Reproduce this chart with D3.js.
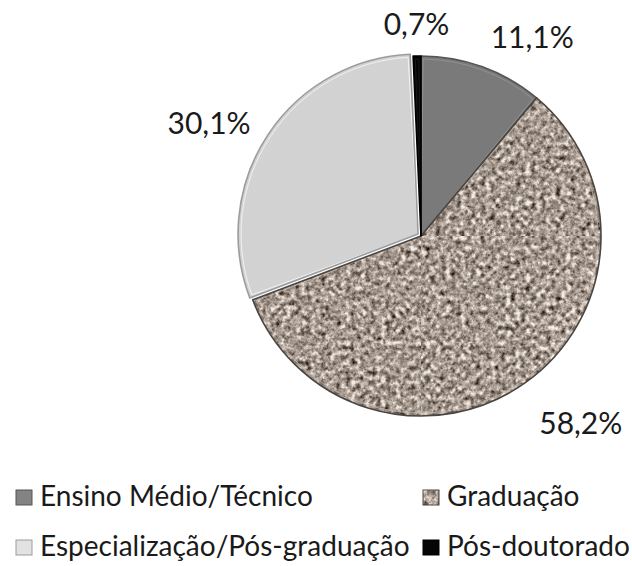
<!DOCTYPE html>
<html>
<head>
<meta charset="utf-8">
<script src="https://cdn.jsdelivr.net/npm/d3@7"></script>
<style>
  html, body { margin: 0; padding: 0; background: #fff; }
  svg { display: block; }
  text { font-family: Lato, "Open Sans", sans-serif; fill: #1a1a1a; }
</style>
</head>
<body>
<svg id="chart" width="632" height="566"></svg>
<script>
// Nível de escolaridade (%)
const categories = ["Ensino Médio/Técnico", "Graduação", "Especialização/Pós-graduação", "Pós-doutorado"];
const values = [11.1, 58.2, 30.1, 0.7];
const valueLabels = ["11,1%", "58,2%", "30,1%", "0,7%"];

const fills = ["#838383", "url(#granite-fill)", "#e2e2e2", "#050505"];
const edges = ["#555555", "#4a4540", "#9c9c9c", "#000000"];
const bevels = ["#9a9a9a", "#c9bfb6", "#ffffff", "#222222"];

const W = 632, H = 566;
const cx = 421, cy = 236, R = 180;

const svg = d3.select("#chart");
const defs = svg.append("defs");

// speckled granite texture for the "Graduação" slice
const pat = defs.append("pattern")
  .attr("id", "granite-fill")
  .attr("patternUnits", "userSpaceOnUse")
  .attr("width", 400).attr("height", 400);
const f = defs.append("filter")
  .attr("id", "granite")
  .attr("x", 0).attr("y", 0).attr("width", 1).attr("height", 1)
  .attr("color-interpolation-filters", "sRGB");
f.append("feTurbulence")
  .attr("type", "fractalNoise").attr("baseFrequency", 0.2)
  .attr("numOctaves", 3).attr("seed", 7).attr("result", "noise");
const k = 2.3, k3 = (k / 3).toFixed(3);
f.append("feColorMatrix").attr("in", "noise").attr("type", "matrix")
  .attr("values", [
    `${k3} ${k3} ${k3} 0 ${(0.69 - k / 2).toFixed(3)}`,
    `${k3} ${k3} ${k3} 0 ${(0.64 - k / 2).toFixed(3)}`,
    `${k3} ${k3} ${k3} 0 ${(0.60 - k / 2).toFixed(3)}`,
    `0 0 0 0 1`
  ].join(" "));
pat.append("rect").attr("width", 400).attr("height", 400)
  .attr("fill", "#a89c92").attr("filter", "url(#granite)");

// light shading toward the lower right of the disc
const shade = defs.append("radialGradient")
  .attr("id", "disc-shade").attr("gradientUnits", "userSpaceOnUse")
  .attr("cx", cx - 60).attr("cy", cy - 70).attr("r", R * 1.5);
shade.append("stop").attr("offset", "0.7").attr("stop-color", "#000").attr("stop-opacity", 0);
shade.append("stop").attr("offset", "1").attr("stop-color", "#000").attr("stop-opacity", 0.07);

const pie = d3.pie().sort(null).value(d => d)(values);
const arc = d3.arc().innerRadius(0).outerRadius(R);
const arcInset = d3.arc().innerRadius(0).outerRadius(R - 3);

const explode = [0, 0, 3.5, 0];

const g = svg.append("g").attr("transform", `translate(${cx},${cy})`);

const slices = g.selectAll("g.slice")
  .data(pie)
  .join("g")
  .attr("class", "slice")
  .attr("transform", (d, i) => {
    const a = (d.startAngle + d.endAngle) / 2;
    return `translate(${Math.sin(a) * explode[i]},${-Math.cos(a) * explode[i]})`;
  });

slices.append("path")
  .attr("d", arc)
  .attr("fill", (d, i) => fills[i]);

slices.append("path")
  .attr("d", arc)
  .attr("fill", "url(#disc-shade)");

// bevel line just inside each slice
slices.append("path")
  .attr("d", d => arcInset({ ...d, startAngle: d.startAngle + 0.012, endAngle: d.endAngle - 0.012 }))
  .attr("fill", "none")
  .attr("stroke", (d, i) => bevels[i])
  .attr("stroke-opacity", 0.7)
  .attr("stroke-width", 1);

slices.append("path")
  .attr("d", arc)
  .attr("fill", "none")
  .attr("stroke", (d, i) => edges[i])
  .attr("stroke-width", 1.6)
  .attr("stroke-linejoin", "round");

// value labels just outside each slice
const labelR = R + 24;
const fs = 30;
g.selectAll("text.value")
  .data(pie)
  .join("text")
  .attr("class", "value")
  .attr("font-size", fs)
  .attr("x", d => Math.sin((d.startAngle + d.endAngle) / 2) * labelR)
  .attr("y", d => {
    const a = (d.startAngle + d.endAngle) / 2;
    return -Math.cos(a) * labelR + 0.52 * fs * (1 - Math.cos(a)) + 3;
  })
  .attr("text-anchor", d => {
    const s = Math.sin((d.startAngle + d.endAngle) / 2);
    return s > 0.2 ? "start" : s < -0.2 ? "end" : "middle";
  })
  .text((d, i) => valueLabels[i]);

// legend: two columns, two rows
const legX = [16, 423], legY = [506, 556];
const leg = svg.append("g").selectAll("g.item")
  .data(categories)
  .join("g")
  .attr("class", "item")
  .attr("transform", (d, i) => `translate(${legX[i % 2]},${legY[Math.floor(i / 2)]})`);

leg.append("rect")
  .attr("x", 0).attr("y", -16)
  .attr("width", 16).attr("height", 15)
  .attr("fill", (d, i) => fills[i])
  .attr("stroke", (d, i) => edges[i])
  .attr("stroke-width", 1);

leg.append("text")
  .attr("x", 24)
  .attr("font-size", 28)
  .text(d => d);
</script>
</body>
</html>
